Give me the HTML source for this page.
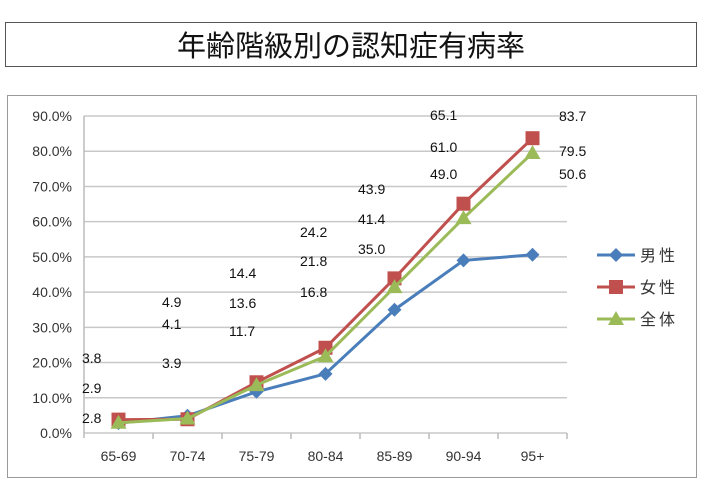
<!DOCTYPE html>
<html><head><meta charset="utf-8">
<style>
body{margin:0;width:706px;height:490px;background:#fff;overflow:hidden;font-family:"Liberation Sans","Noto Sans CJK JP",sans-serif;}
#title{position:absolute;left:5px;top:22px;width:692px;height:45px;border:1px solid #555;box-sizing:border-box;text-align:center;font-size:29px;line-height:43px;color:#111;font-family:"Noto Sans CJK JP",sans-serif;}
#chartbox{position:absolute;left:7px;top:95px;width:690px;height:383px;border:1.5px solid #999;box-sizing:border-box;}
svg{position:absolute;left:0;top:0;}
</style></head><body>
<div id="title">年齢階級別の認知症有病率</div>
<div id="chartbox"></div>
<svg id="chart" width="706" height="490"></svg>
<script>
const categories=["65-69","70-74","75-79","80-84","85-89","90-94","95+"];
const male=[2.8,4.9,11.7,16.8,35.0,49.0,50.6];
const female=[3.8,3.9,14.4,24.2,43.9,65.1,83.7];
const total=[2.9,4.1,13.6,21.8,41.4,61.0,79.5];
const yTicks=[0,10,20,30,40,50,60,70,80,90];
const seriesNames=["男性","女性","全体"];
const NS="http://www.w3.org/2000/svg";
const svg=document.getElementById('chart');
const X0=84,X1=567,Y0=433,Y90=116;
const cw=(X1-X0)/categories.length;
function xs(i){return X0+cw*(i+0.5);}
function ys(v){return Y0-(Y0-Y90)*v/90;}
function el(t,a,p){const e=document.createElementNS(NS,t);for(const k in a)e.setAttribute(k,a[k]);(p||svg).appendChild(e);return e;}
yTicks.forEach(v=>{
  const g=el('line',{x1:X0,x2:X1,y1:ys(v),y2:ys(v),stroke:'#c8c8c8','stroke-width':1.5});
  
  
  const t=el('text',{x:X0-12,y:ys(v)+5,'text-anchor':'end','font-size':14,fill:'#333'});
  t.textContent=v.toFixed(1)+'%';
  
  
});
el('line',{x1:X0,x2:X0,y1:Y90,y2:Y0+5,stroke:'#bbb','stroke-width':1.5});
categories.forEach((c,i)=>{
  const tk=el('line',{x1:X0+cw*(i+1),x2:X0+cw*(i+1),y1:Y0,y2:Y0+6,stroke:'#bbb','stroke-width':1.5});
  
  
  const t=el('text',{x:xs(i),y:Y0+28,'text-anchor':'middle','font-size':14,fill:'#333'});
  t.textContent=c;
  
  
});
function marker(type,x,y,color,g){
  if(type==='d')return el('polygon',{points:`${x},${y-7} ${x+7},${y} ${x},${y+7} ${x-7},${y}`,fill:color},g);
  if(type==='s')return el('rect',{x:x-7,y:y-7,width:14,height:14,fill:color},g);
  return el('polygon',{points:`${x},${y-8} ${x+8},${y+6} ${x-8},${y+6}`,fill:color},g);
}
const series=[[male,'#4a7ebb','d'],[female,'#c0504d','s'],[total,'#9bbb59','t']];
series.forEach(([d,c,m],k)=>{
  const g=el('g',{});
  
  
  el('polyline',{points:d.map((v,i)=>xs(i)+','+ys(v)).join(' '),fill:'none',stroke:c,'stroke-width':3},g);
  d.forEach((v,i)=>{const p=marker(m,xs(i),ys(v),c,g);
    
    });
  const ly=255+k*32;
  el('line',{x1:597,x2:635,y1:ly,y2:ly,stroke:c,'stroke-width':3},g);
  marker(m,616,ly,c,g);
  const t=el('text',{x:640,y:ly+6,'font-size':16,fill:'#333','font-family':'Noto Sans CJK JP, sans-serif','letter-spacing':'3'},g);
  t.textContent=seriesNames[k];
  
  
});
const labelX=[82,162,229,300,358,430,559];
const labelY=[[363,393,423],[307,329,368],[278,308,336],[237,266,297],[194,224,254],[120,152,179],[121,156,179]];
categories.forEach((c,i)=>{
  const vals=i===1?[male[i],total[i],female[i]]:[female[i],total[i],male[i]];
  vals.forEach((v,j)=>{
    const t=el('text',{x:labelX[i],y:labelY[i][j],'font-size':14,fill:'#111'});
    t.textContent=v.toFixed(1);
    
    
  });
});
</script>
</body></html>
